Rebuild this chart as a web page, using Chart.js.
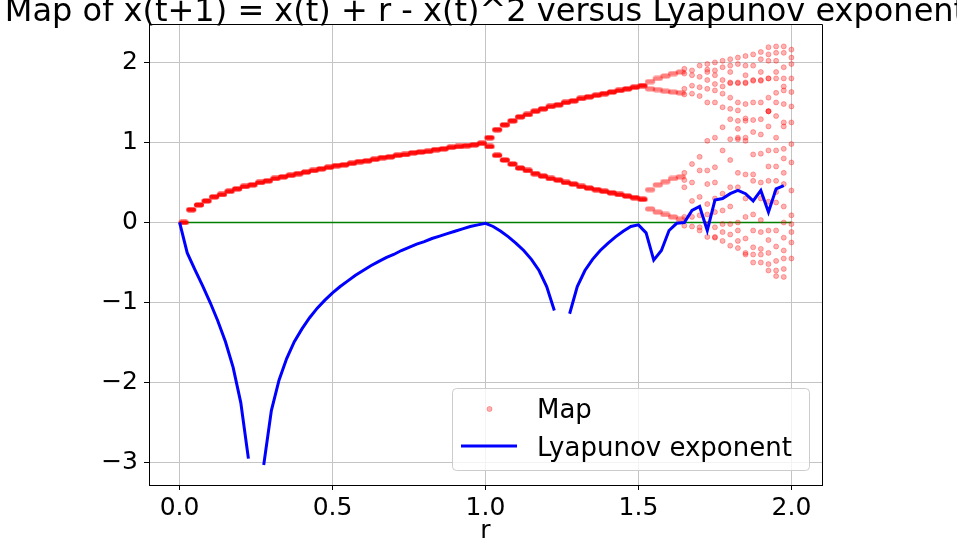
<!DOCTYPE html>
<html>
<head>
<meta charset="utf-8">
<script src="https://cdn.jsdelivr.net/npm/chart.js@4.4.1/dist/chart.umd.min.js"></script>
<style>
    html, body { margin: 0; padding: 0; background: #fff; }
    #wrap { width: 957px; height: 541px; }
</style>
</head>
<body>
<div id="wrap"><canvas id="chart" width="957" height="541"></canvas></div>
<script>
const chartTitle = 'Map of x(t+1) = x(t) + r - x(t)^2 versus Lyapunov exponent';
const xTicks = [0, 0.5, 1.0, 1.5, 2.0];
const yTicks = [-3, -2, -1, 0, 1, 2];

// Lyapunov exponent, one value per r step (null where the curve breaks)
const lyapR = [
    0, 0.025, 0.05, 0.075, 0.1, 0.125, 0.15, 0.175, 0.2, 0.225,
    0.25, 0.275, 0.3, 0.325, 0.35, 0.375, 0.4, 0.425, 0.45, 0.475,
    0.5, 0.525, 0.55, 0.575, 0.6, 0.625, 0.65, 0.675, 0.7, 0.725,
    0.75, 0.775, 0.8, 0.825, 0.85, 0.875, 0.9, 0.925, 0.95, 0.975,
    1.0, 1.025, 1.05, 1.075, 1.1, 1.125, 1.15, 1.175, 1.2, 1.225,
    1.25, 1.275, 1.3, 1.325, 1.35, 1.375, 1.4, 1.425, 1.45, 1.475,
    1.5, 1.525, 1.55, 1.575, 1.6, 1.625, 1.65, 1.675, 1.7, 1.725,
    1.75, 1.775, 1.8, 1.825, 1.85, 1.875, 1.9, 1.925, 1.95, 1.975, 2.0
];
const lyapY = [
    0, -0.38, -0.59, -0.79, -1.0, -1.23, -1.49, -1.81, -2.25, -2.95,
    null, -3.03, -2.35, -1.97, -1.70, -1.49, -1.33, -1.19, -1.07, -0.97,
    -0.88, -0.80, -0.73, -0.66, -0.60, -0.54, -0.49, -0.44, -0.40, -0.35,
    -0.31, -0.27, -0.24, -0.20, -0.17, -0.14, -0.11, -0.08, -0.05, -0.03,
    -0.01, -0.05, -0.11, -0.18, -0.26, -0.35, -0.46, -0.60, -0.80, -1.10,
    null, -1.14, -0.80, -0.60, -0.46, -0.35, -0.26, -0.18, -0.11, -0.05,
    -0.03, -0.13, -0.47, -0.35, -0.10, -0.01, 0.00, 0.15, 0.20, -0.10,
    0.28, 0.30, 0.36, 0.40, 0.36, 0.27, 0.40, 0.13, 0.42, 0.46, null
];

// Map: fixed point branch (r < 1)
const fixedR = [
    0, 0.025, 0.05, 0.075, 0.1, 0.125, 0.15, 0.175, 0.2, 0.225,
    0.25, 0.275, 0.3, 0.325, 0.35, 0.375, 0.4, 0.425, 0.45, 0.475,
    0.5, 0.525, 0.55, 0.575, 0.6, 0.625, 0.65, 0.675, 0.7, 0.725,
    0.75, 0.775, 0.8, 0.825, 0.85, 0.875, 0.9, 0.925, 0.95, 0.975
];
const fixedX = [
    0, 0.16, 0.22, 0.27, 0.32, 0.35, 0.39, 0.42, 0.45, 0.47,
    0.50, 0.52, 0.55, 0.57, 0.59, 0.61, 0.63, 0.65, 0.67, 0.69,
    0.71, 0.72, 0.74, 0.76, 0.77, 0.79, 0.81, 0.82, 0.84, 0.85,
    0.87, 0.88, 0.89, 0.91, 0.92, 0.94, 0.95, 0.96, 0.97, 0.99
];

// Map: period two branches (1 <= r <= 1.5)
const cycleR = [
    1.0, 1.025, 1.05, 1.075, 1.1, 1.125, 1.15, 1.175, 1.2, 1.225, 1.25,
    1.275, 1.3, 1.325, 1.35, 1.375, 1.4, 1.425, 1.45, 1.475, 1.5
];
const cycleUpper = [
    1.06, 1.16, 1.22, 1.27, 1.32, 1.35, 1.39, 1.42, 1.45, 1.47, 1.50,
    1.52, 1.55, 1.57, 1.59, 1.61, 1.63, 1.65, 1.67, 1.69, 1.71
];
const cycleLower = [
    0.95, 0.84, 0.78, 0.73, 0.68, 0.65, 0.61, 0.58, 0.55, 0.53, 0.50,
    0.48, 0.45, 0.43, 0.41, 0.39, 0.37, 0.35, 0.33, 0.31, 0.29
];

// Map: period four branches
const quadR = [1.525, 1.55, 1.575, 1.6, 1.625];
const quadA = [1.76, 1.80, 1.83, 1.86, 1.88];
const quadB = [1.67, 1.66, 1.64, 1.63, 1.62];
const quadC = [0.41, 0.47, 0.51, 0.55, 0.57];
const quadD = [0.17, 0.13, 0.10, 0.07, 0.04];

// Map: chaotic region, iterates per r
const chaosR = [1.65, 1.675, 1.7, 1.725, 1.75, 1.775, 1.8, 1.825, 1.85, 1.875, 1.9, 1.925, 1.95, 1.975, 2.0];
const chaosX = [
    [1.92, 1.86, 1.67, 1.60, 0.62, 0.53, 0.44, 0.07, -0.04],
    [1.90, 1.84, 1.71, 1.61, 0.73, 0.50, 0.27, 0.07, -0.05],
    [1.96, 1.82, 1.69, 1.58, 0.82, 0.65, 0.32, 0.09, -0.06, -0.10],
    [1.98, 1.91, 1.88, 1.78, 1.67, 1.50, 1.02, 0.65, 0.48, 0.23, 0.10, -0.02, -0.18],
    [2.00, 1.90, 1.84, 1.73, 1.65, 1.50, 1.06, 0.69, 0.50, 0.30, 0.13, -0.06, -0.18, -0.19],
    [2.02, 1.94, 1.78, 1.70, 1.61, 1.44, 1.19, 0.90, 0.36, 0.15, -0.02, -0.12, -0.23],
    [2.04, 1.96, 1.88, 1.75, 1.74, 1.56, 1.42, 1.29, 1.04, 0.78, 0.44, 0.20, -0.02, -0.15, -0.29],
    [2.06, 1.98, 1.75, 1.74, 1.50, 1.40, 1.27, 1.17, 1.06, 1.04, 0.62, 0.44, 0.00, -0.10, -0.23, -0.32],
    [2.08, 1.96, 1.84, 1.75, 1.74, 1.48, 1.30, 1.27, 1.06, 1.02, 0.60, 0.30, 0.07, -0.20, -0.38, -0.40],
    [2.10, 1.96, 1.78, 1.77, 1.50, 1.28, 1.13, 0.85, 0.60, 0.52, 0.10, -0.10, -0.31, -0.40, -0.50],
    [2.13, 2.04, 1.88, 1.78, 1.77, 1.50, 1.29, 1.10, 0.86, 0.50, 0.30, 0.03, -0.12, -0.33, -0.40, -0.50],
    [2.19, 2.10, 2.02, 1.80, 1.80, 1.56, 1.39, 1.39, 1.39, 1.20, 0.90, 0.70, 0.52, 0.26, -0.10, -0.22, -0.38, -0.52, -0.60],
    [2.20, 2.12, 2.02, 1.88, 1.80, 1.62, 1.50, 1.33, 1.06, 0.90, 0.70, 0.52, 0.38, 0.25, -0.10, -0.30, -0.48, -0.60, -0.67],
    [2.20, 2.12, 1.94, 1.80, 1.70, 1.65, 1.48, 1.25, 1.20, 0.92, 0.80, 0.62, 0.48, 0.20, 0.00, -0.19, -0.35, -0.45, -0.58, -0.68],
    [2.16, 2.06, 1.98, 1.80, 1.63, 1.45, 1.25, 0.98, 0.75, 0.40, 0.09, -0.02, -0.12, -0.25, -0.45]
];

const zeroLine = [0, 2.0];

const FONT = 'DejaVu Sans';
const mapSolid = 'rgba(255, 0, 0, 0.95)';
const mapLight = 'rgba(255, 0, 0, 0.3)';

// short horizontal dash used for the converged iterates
function makeDash(color) {
    const c = document.createElement('canvas');
    c.width = 20;
    c.height = 6;
    const g = c.getContext('2d');
    g.fillStyle = color;
    g.beginPath();
    g.roundRect(9, 0.5, 10, 5, 2.5);
    g.fill();
    return c;
}

function pairs(rs, xs) {
    return rs.map((r, i) => ({ x: r, y: xs[i] }));
}

const orderedPoints = pairs(fixedR, fixedX)
    .concat(pairs(cycleR, cycleUpper))
    .concat(pairs(cycleR, cycleLower));

const quadPoints = [quadA, quadB, quadC, quadD].flatMap(b => pairs(quadR, b));

const chaosPoints = [];
chaosR.forEach((r, i) => {
    chaosX[i].forEach(v => chaosPoints.push({ x: r, y: v }));
});

const frameAndText = {
    id: 'frameAndText',
    afterDraw(chart) {
        const ctx = chart.ctx;
        const a = chart.chartArea;
        ctx.save();
        // right and top spines
        ctx.strokeStyle = '#000';
        ctx.lineWidth = 1;
        ctx.beginPath();
        ctx.moveTo(Math.round(a.left) + 0.5, Math.round(a.top) + 0.5);
        ctx.lineTo(Math.round(a.right) + 0.5, Math.round(a.top) + 0.5);
        ctx.lineTo(Math.round(a.right) + 0.5, Math.round(a.bottom) + 0.5);
        ctx.stroke();

        // title, partly cut by the top edge
        ctx.fillStyle = '#000';
        ctx.font = '32px "' + FONT + '"';
        ctx.textAlign = 'center';
        ctx.textBaseline = 'alphabetic';
        ctx.fillText(chartTitle, (a.left + a.right) / 2, 21);

        // legend box in the lower right
        const bx = 452, by = 388.5, bw = 357, bh = 82;
        ctx.fillStyle = 'rgba(255, 255, 255, 0.8)';
        ctx.strokeStyle = '#cccccc';
        ctx.beginPath();
        ctx.roundRect(bx + 0.5, by, bw, bh, 4);
        ctx.fill();
        ctx.stroke();

        ctx.fillStyle = mapLight;
        ctx.strokeStyle = mapLight;
        ctx.beginPath();
        ctx.arc(489.5, 409, 2.5, 0, Math.PI * 2);
        ctx.fill();
        ctx.stroke();

        ctx.strokeStyle = '#0000ff';
        ctx.lineWidth = 3;
        ctx.beginPath();
        ctx.moveTo(461, 446);
        ctx.lineTo(517, 446);
        ctx.stroke();

        ctx.fillStyle = '#000';
        ctx.font = '26px "' + FONT + '"';
        ctx.textAlign = 'left';
        ctx.fillText('Map', 537, 418);
        ctx.fillText('Lyapunov exponent', 537, 456);
        ctx.restore();
    }
};

Chart.defaults.font.family = FONT;
Chart.defaults.font.size = 25;
Chart.defaults.color = '#000';

new Chart(document.getElementById('chart'), {
    type: 'scatter',
    data: {
        datasets: [
            {
                label: 'Lyapunov exponent',
                type: 'line',
                data: pairs(lyapR, lyapY),
                borderColor: '#0000ff',
                borderWidth: 3,
                pointRadius: 0,
                tension: 0,
                spanGaps: false,
                order: 0
            },
            {
                label: 'Map',
                data: orderedPoints,
                pointStyle: makeDash(mapSolid),
                pointRadius: 5,
                order: 2
            },
            {
                label: 'Map',
                data: quadPoints,
                pointStyle: makeDash('rgba(255, 0, 0, 0.5)'),
                pointRadius: 5,
                order: 3
            },
            {
                label: 'Map',
                data: chaosPoints,
                pointRadius: 2.5,
                backgroundColor: mapLight,
                borderColor: mapLight,
                borderWidth: 1,
                order: 4
            },
            {
                label: 'zero',
                type: 'line',
                data: zeroLine.map(r => ({ x: r, y: 0 })),
                borderColor: '#008000',
                borderWidth: 1.5,
                pointRadius: 0,
                order: 5
            }
        ]
    },
    options: {
        responsive: false,
        animation: false,
        devicePixelRatio: 1,
        layout: {
            padding: { left: 0, right: 135, top: 24, bottom: 0 }
        },
        plugins: {
            legend: { display: false },
            tooltip: { enabled: false },
            title: { display: false }
        },
        scales: {
            x: {
                type: 'linear',
                min: -0.1,
                max: 2.1,
                afterBuildTicks: (scale) => {
                    scale.ticks = xTicks.map(v => ({ value: v }));
                },
                afterFit: (scale) => { scale.height = 56; },
                ticks: {
                    padding: 3,
                    maxRotation: 0,
                    callback: (v) => v.toFixed(1)
                },
                grid: {
                    color: '#c4c4c4',
                    lineWidth: 1,
                    tickColor: '#000',
                    tickLength: 5
                },
                border: { display: true, color: '#000', width: 1 },
                title: {
                    display: true,
                    text: 'r',
                    font: { size: 25 },
                    padding: { top: 0, bottom: -5 }
                }
            },
            y: {
                type: 'linear',
                min: -3.28,
                max: 2.48,
                afterBuildTicks: (scale) => {
                    scale.ticks = yTicks.map(v => ({ value: v }));
                },
                afterFit: (scale) => { scale.width = 149; },
                ticks: {
                    padding: 6,
                    callback: (v) => (v < 0 ? '\u2212' + Math.abs(v) : String(v))
                },
                grid: {
                    color: '#c4c4c4',
                    lineWidth: 1,
                    tickColor: '#000',
                    tickLength: 5
                },
                border: { display: true, color: '#000', width: 1 }
            }
        }
    },
    plugins: [frameAndText]
});
</script>
</body>
</html>
